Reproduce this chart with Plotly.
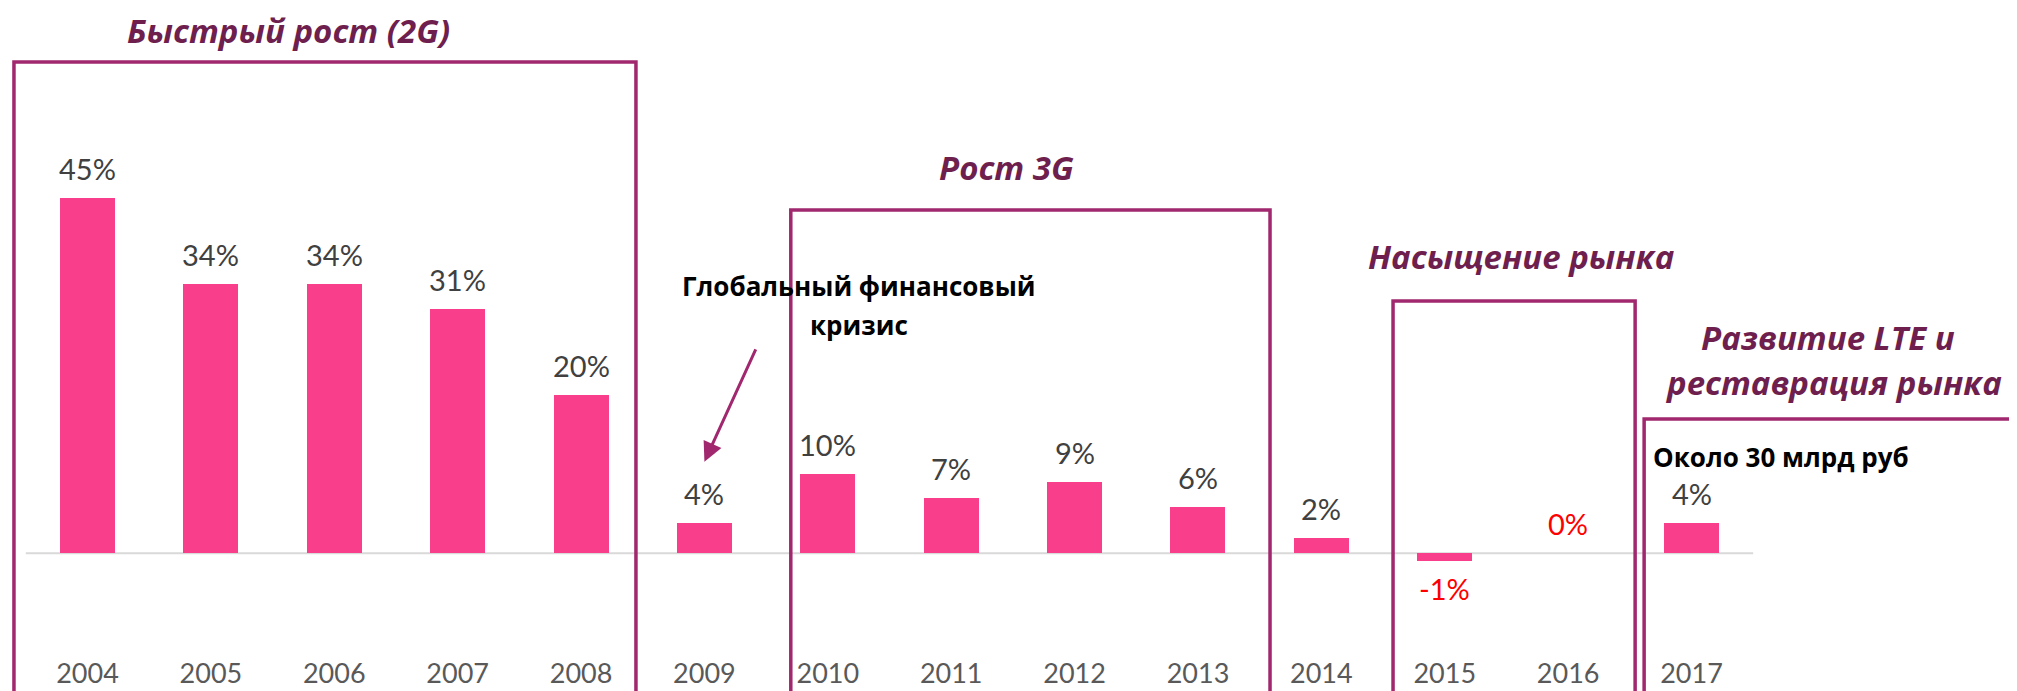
import plotly.graph_objects as go

# ---------------- data ----------------
years = ["2004", "2005", "2006", "2007", "2008", "2009", "2010",
         "2011", "2012", "2013", "2014", "2015", "2016", "2017"]
growth = [45.0, 34.1, 34.1, 31.0, 20.1, 3.9, 10.0, 7.0, 9.0, 5.9, 2.0, -1.0, 0.0, 3.9]
value_labels = ["45%", "34%", "34%", "31%", "20%", "4%", "10%", "7%", "9%", "6%",
                "2%", "-1%", "0%", "4%"]
label_colors = ["#404040"] * 11 + ["#FF0000", "#FF0000", "#404040"]

phase_titles = ["Быстрый рост (2G)", "Рост 3G", "Насыщение рынка",
                "Развитие LTE и", "реставрация рынка"]
crisis_note = ["Глобальный финансовый", "кризис"]
lte_note = "Около 30 млрд руб"

# ---------------- layout geometry ----------------
# page body has an 8px margin, so the figure is slightly smaller than the window
W, H = 2009, 683
BOTTOM_MARGIN = 36
X_RANGE = [-0.6443, 15.638]
Y_RANGE = [-12.89, 69.11]

BAR_COLOR = "#F93E8B"
BOX_COLOR = "#A1286E"
TITLE_COLOR = "#6E1F4E"


def xp(c):
    return (c - X_RANGE[0]) / (X_RANGE[1] - X_RANGE[0])


def yp(v):
    return (v - Y_RANGE[0]) / (Y_RANGE[1] - Y_RANGE[0])


fig = go.Figure()
fig.add_trace(go.Bar(
    x=list(range(len(years))), y=growth,
    marker=dict(color=BAR_COLOR, line=dict(width=0)),
    width=0.446, hoverinfo="skip", showlegend=False,
))

annotations = []
for i, (v, t, c) in enumerate(zip(growth, value_labels, label_colors)):
    if v < 0:
        annotations.append(dict(x=i, y=v, xref="x", yref="y", text=t, showarrow=False,
                                yanchor="top", yshift=-8,
                                font=dict(family="Lato", size=29, color=c)))
    else:
        annotations.append(dict(x=i, y=v, xref="x", yref="y", text=t, showarrow=False,
                                yanchor="bottom", yshift=10,
                                font=dict(family="Lato", size=29, color=c)))

title_font = dict(family="Open Sans", size=33, color=TITLE_COLOR, weight="bold", style="italic")
title_pos = [(1.633, 66.3), (7.45, 48.85), (11.62, 37.6), (14.11, 27.3), (14.15, 21.6)]
for t, (cx, cy) in zip(phase_titles, title_pos):
    annotations.append(dict(x=cx, y=cy, xref="x", yref="y", text=t, showarrow=False,
                            xanchor="center", yanchor="middle", font=title_font,
                            borderpad=0))

note_font = dict(family="Open Sans", size=26, color="#000000", weight="bold")
annotations.append(dict(x=6.25, y=33.9, xref="x", yref="y", text=crisis_note[0],
                        showarrow=False, xanchor="center", yanchor="middle", font=note_font))
annotations.append(dict(x=6.25, y=28.9, xref="x", yref="y", text=crisis_note[1],
                        showarrow=False, xanchor="center", yanchor="middle", font=note_font))
annotations.append(dict(x=12.67, y=12.2, xref="x", yref="y", text=lte_note,
                        showarrow=False, xanchor="left", yanchor="middle", font=note_font))

# arrow pointing at the 2009 bar
annotations.append(dict(x=5, y=11.6, xref="x", yref="y", text="", showarrow=True,
                        ax=52, ay=-114, arrowhead=2, arrowsize=1.3, arrowwidth=3,
                        arrowcolor=BOX_COLOR, standoff=0))

shapes = []
# zero baseline
shapes.append(dict(type="line", xref="x", yref="y", x0=-0.5, x1=13.5, y0=0, y1=0,
                   line=dict(color="#D9D9D9", width=2), layer="below"))
# phase boxes (left, right in category units; top in value units)
boxes = [(-0.596, 4.445, 62.27), (5.70, 9.584, 43.51), (10.581, 12.543, 31.98),
         (12.616, 16.2, 17.02)]
for x0, x1, top in boxes:
    shapes.append(dict(type="rect", xref="paper", yref="paper",
                       x0=xp(x0), x1=xp(x1), y0=-0.2, y1=yp(top),
                       line=dict(color=BOX_COLOR, width=3.5), fillcolor="rgba(0,0,0,0)"))

fig.update_layout(
    width=W, height=H,
    margin=dict(l=0, r=0, t=0, b=BOTTOM_MARGIN, pad=0),
    paper_bgcolor="white", plot_bgcolor="white",
    template="none",
    xaxis=dict(range=X_RANGE, tickmode="array", tickvals=list(range(len(years))),
               ticktext=years, showgrid=False, zeroline=False, showline=False,
               ticks="", tickfont=dict(family="Lato", size=27, color="#595959"),
               automargin=False, fixedrange=True),
    yaxis=dict(range=Y_RANGE, showgrid=False, zeroline=False, showline=False,
               showticklabels=False, ticks="", automargin=False, fixedrange=True),
    annotations=annotations, shapes=shapes, bargap=0,
)

fig.write_html("out.html")
